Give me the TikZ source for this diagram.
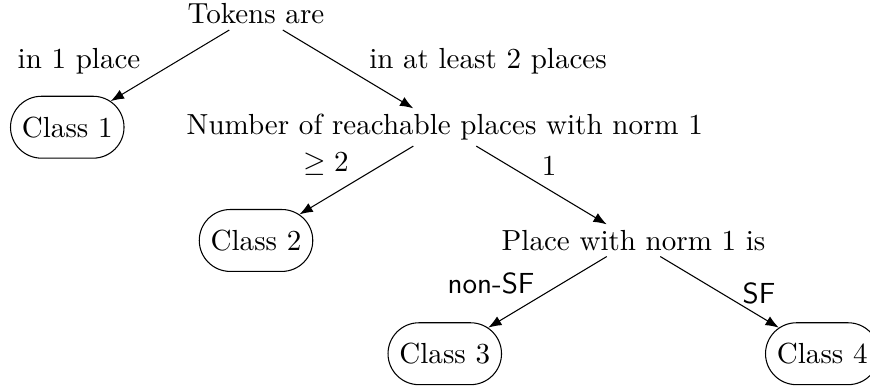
\documentclass[tikz,border=0pt]{standalone}
\usetikzlibrary{arrows.meta,shapes.misc}
\begin{document}
\begin{tikzpicture}[
  font=\fontsize{10.95}{13.6}\selectfont,
  classbox/.style={draw, rounded rectangle, minimum height=0.82cm, inner xsep=3.6pt, inner ysep=2pt},
  plain/.style={inner sep=2pt},
  lbl/.style={inner sep=0pt},
  edge/.style={-{Latex[length=5pt,width=3.8pt]}}
]
\useasboundingbox (-3.391,0.185) rectangle (8.132,-4.954);
\node[plain] (tok) at (0,0) {Tokens are};
\node[classbox] (c1) at (-2.5,-1.5) {Class 1};
\node[plain] (num) at (2.5,-1.5) {Number of reachable places with norm 1};
\node[classbox] (c2) at (0,-3) {Class 2};
\node[plain] (place) at (5,-3) {Place with norm 1 is};
\node[classbox] (c3) at (2.5,-4.5) {Class 3};
\node[classbox] (c4) at (7.5,-4.5) {Class 4};

\draw[edge] (tok) -- (c1);
\draw[edge] (tok) -- (num);
\draw[edge] (num) -- (c2);
\draw[edge] (num) -- (place);
\draw[edge] (place) -- (c3);
\draw[edge] (place) -- (c4);

\node[lbl] (l1) at (-2.344,-0.629) {in 1 place};
\node[lbl] (l2) at (3.073,-0.629) {in at least 2 places};
\node[lbl] (l3) at (0.927,-1.987) {$\geq 2$};
\node[lbl] (l4) at (3.881,-2.013) {1};
\node[lbl] (l5) at (3.113,-3.570) {\textsf{non-SF}};
\node[lbl] (l6) at (6.662,-3.702) {\textsf{SF}};
\end{tikzpicture}
\end{document}
